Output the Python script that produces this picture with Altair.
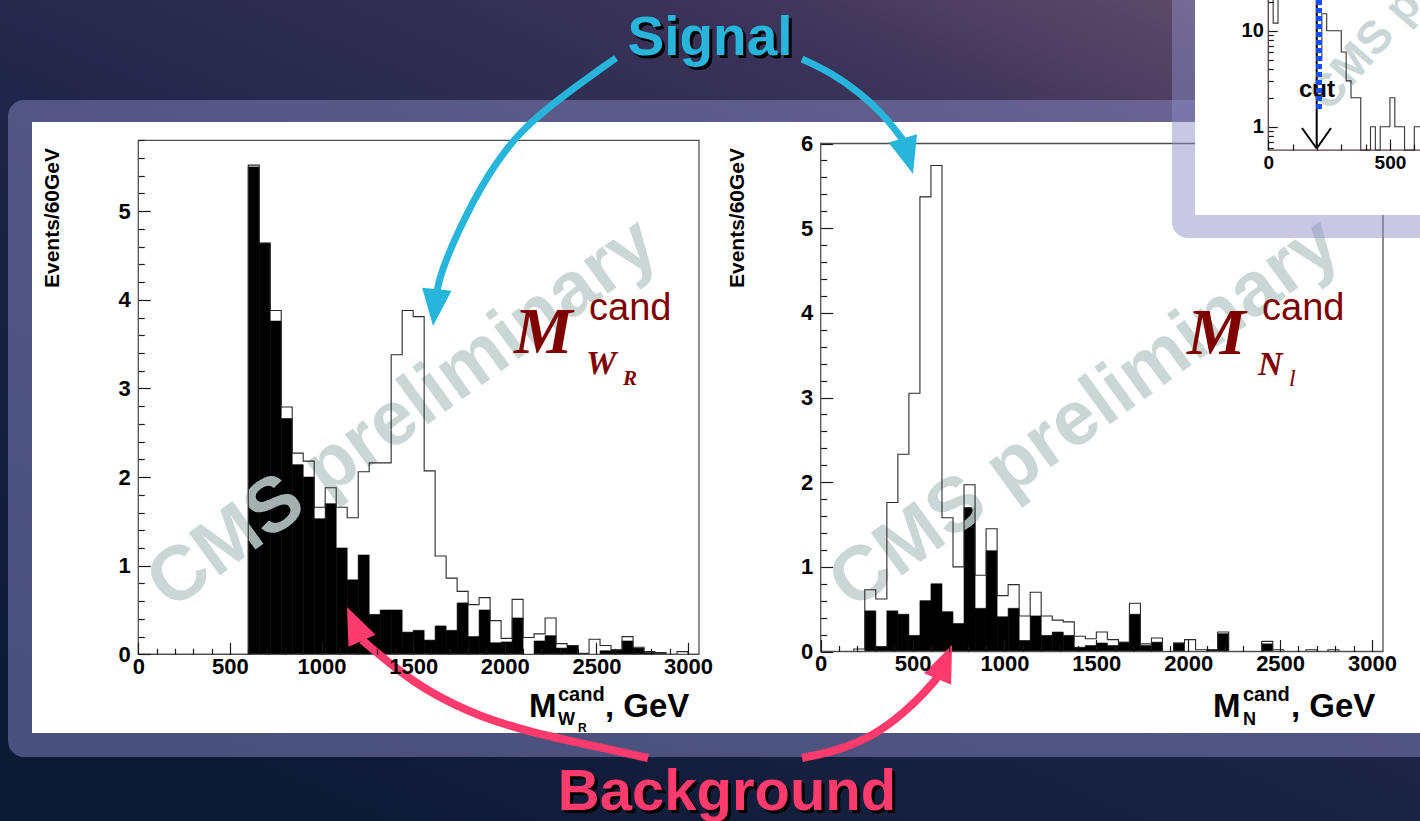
import altair as alt
import pandas as pd

W, H = 1420, 821

# ---------------- histogram data: Events / 60 GeV ----------------
BIN = 60
XMAX = 3060
EDGES = list(range(0, XMAX, BIN))  # 51 bin left edges

WR_BKG = [0, 0, 0, 0, 0, 0, 0, 0, 0, 0,
          5.50, 4.64, 3.76, 2.66, 2.14, 2.00, 1.53, 1.70, 1.20, 0.84,
          1.12, 0.45, 0.50, 0.50, 0.25, 0.27, 0.16, 0.32, 0.27, 0.58,
          0.20, 0.50, 0.13, 0.14, 0.41, 0.00, 0.15, 0.21, 0.07, 0.10,
          0.00, 0.00, 0.04, 0.05, 0.15, 0.07, 0.02, 0.01, 0.00, 0.00,
          0.00]
WR_TOT = [0, 0, 0, 0, 0, 0, 0, 0, 0, 0,
          5.52, 4.64, 3.88, 2.79, 2.27, 2.18, 1.66, 1.88, 1.66, 1.54,
          2.06, 2.16, 2.16, 3.38, 3.88, 3.81, 2.07, 1.11, 0.86, 0.71,
          0.56, 0.64, 0.38, 0.18, 0.62, 0.19, 0.23, 0.41, 0.12, 0.10,
          0.01, 0.17, 0.10, 0.05, 0.20, 0.08, 0.03, 0.02, 0.00, 0.03,
          0.00]
N_BKG = [0, 0, 0, 0,
         0.48, 0.06, 0.48, 0.44, 0.19, 0.60, 0.80, 0.47, 0.33, 1.70,
         0.51, 1.19, 0.41, 0.51, 0.13, 0.42, 0.19, 0.23, 0.19, 0.05,
         0.07, 0.10, 0.07, 0.11, 0.44, 0.07, 0.11, 0.00, 0.10, 0.00,
         0.00, 0.02, 0.21, 0.00, 0.00, 0.00, 0.09, 0.00, 0.00, 0.00,
         0.00, 0.00, 0.00, 0.00, 0.00, 0.00, 0.00]
N_TOT = [0, 0, 0, 0.03,
         0.73, 0.62, 1.76, 2.33, 3.05, 5.37, 5.74, 1.58, 1.00, 1.97,
         0.90, 1.45, 0.66, 0.79, 0.42, 0.70, 0.42, 0.37, 0.35, 0.18,
         0.15, 0.23, 0.14, 0.11, 0.57, 0.09, 0.16, 0.00, 0.10, 0.14,
         0.02, 0.02, 0.23, 0.00, 0.00, 0.00, 0.12, 0.02, 0.00, 0.00,
         0.02, 0.00, 0.02, 0.00, 0.00, 0.00, 0.00]

# ---------------- inset (log scale, cut at 200 GeV) ----------------
INSET_BIN = 20
INSET_EDGES = list(range(0, 640, INSET_BIN))
INSET_TOT = [30, 12, 30, 30, 30, 30, 30, 30, 30, 30,
             5, 15, 10, 10, 10, 6, 3, 2, 2, 0,
             0, 1, 0, 1, 1, 2, 1, 1, 0, 0,
             1, 1]
INSET_FLOOR = 0.57

# ---------------- ticks ----------------
X_MAJOR = [0, 500, 1000, 1500, 2000, 2500, 3000]
X_MINOR = [v for v in range(100, 3001, 100) if v % 500]
WR_Y_MAJOR = [0, 1, 2, 3, 4, 5]
N_Y_MAJOR = [0, 1, 2, 3, 4, 5, 6]
Y_MINOR = [round(0.2 * i, 1) for i in range(1, 30) if i % 5]
INSET_X_MAJOR = [0, 500]
INSET_X_MINOR = [100, 200, 300, 400, 600]
INSET_Y_MAJOR = [1, 10]
INSET_Y_MINOR = [0.6, 0.7, 0.8, 0.9, 2, 3, 4, 5, 6, 7, 8, 9, 20]

# ---------------- layout (canvas pixels) ----------------
LEFT = dict(x0=138.3, x1=699.0, yb=654.3, yt=140.3, ymax=5.8)
RIGHT = dict(x0=820.7, x1=1383.0, yb=651.5, yt=143.5, ymax=6.0)
INSET = dict(x0=1268.3, k=0.2433, y_one=126.7, ppd=96.0, yb=150.0)

FONT = "Liberation Sans"
SERIF = "Liberation Serif"
DARKRED = "#800000"
CYAN = "#27b5dc"
PINK = "#ff3a6c"
WATER = "#c2d0d0"

CX = alt.Scale(domain=[0, W], nice=False, zero=False)
CY = alt.Scale(domain=[0, H], reverse=True, nice=False, zero=False)


def cx(f):
    return alt.X(f, type="quantitative", scale=CX, axis=None)


def cy(f):
    return alt.Y(f, type="quantitative", scale=CY, axis=None)


def crect(x0, x1, y0, y1, **kw):
    df = pd.DataFrame({"a": [x0], "b": [x1], "c": [y0], "d": [y1]})
    return alt.Chart(df).mark_rect(**kw).encode(
        x=cx("a"), x2=alt.X2("b"), y=cy("c"), y2=alt.Y2("d"))


def ctext(items, **kw):
    df = pd.DataFrame(items, columns=["px", "py", "t"])
    return alt.Chart(df).mark_text(**kw).encode(
        x=cx("px"), y=cy("py"), text=alt.Text("t:N"))


def cpath(paths, **kw):
    rows = [dict(id=k, i=i, px=p[0], py=p[1])
            for k, pts in paths.items() for i, p in enumerate(pts)]
    return alt.Chart(pd.DataFrame(rows)).mark_line(**kw).encode(
        x=cx("px"), y=cy("py"), detail="id:N", order="i:Q")


HEAD = "M0,0L-0.8,2L0.8,2Z"


def cheads(heads, color, size=1369):
    df = pd.DataFrame(heads, columns=["px", "py", "ang"])
    return alt.Chart(df).mark_point(shape=HEAD, filled=True, color=color,
                                    opacity=1, size=size, strokeWidth=0).encode(
        x=cx("px"), y=cy("py"), angle=alt.Angle("ang:Q", scale=None))


def panel_scales(fr):
    kx = XMAX / (fr["x1"] - fr["x0"])
    ky = fr["ymax"] / (fr["yb"] - fr["yt"])
    xs = alt.Scale(domain=[-fr["x0"] * kx, (W - fr["x0"]) * kx], nice=False, zero=False)
    ys = alt.Scale(domain=[-(H - fr["yb"]) * ky, fr["yb"] * ky], nice=False, zero=False)
    return xs, ys


def axis(values, orient, offset, size, labels=True, font_size=22, pad=3):
    kw = dict(values=values, orient=orient, offset=offset, tickSize=size,
              tickWidth=1.2, tickColor="#1a1a1a", domain=False, grid=False,
              labels=labels, zindex=1, title="")
    if labels:
        kw.update(labelFont=FONT, labelFontSize=font_size, labelFontWeight="bold",
                  labelColor="black", labelPadding=pad, labelOverlap=False,
                  labelFlush=False, format="d")
    return alt.Axis(**kw)


MAJ, MIN = 12, 6


def hist_layers(fr, bkg, tot, y_major):
    xs, ys = panel_scales(fr)
    bars = pd.DataFrame({"lo": EDGES, "hi": [e + BIN for e in EDGES], "v": bkg, "z": 0.0})
    bars = bars[bars.v > 0]
    black = alt.Chart(bars).mark_rect(color="black", stroke="black", strokeWidth=0.6).encode(
        x=alt.X("lo:Q", scale=xs, axis=None), x2=alt.X2("hi"),
        y=alt.Y("v:Q", scale=ys, axis=None), y2=alt.Y2("z"))
    step = pd.DataFrame({"x": EDGES + [XMAX], "v": tot + [0]})
    outline = alt.Chart(step).mark_line(interpolate="step-after", color="#2a2a2a",
                                        strokeWidth=1.1).encode(
        x=alt.X("x:Q", scale=xs, axis=None), y=alt.Y("v:Q", scale=ys, axis=None))
    frame_df = pd.DataFrame({"a": [0], "b": [XMAX], "c": [0.0], "d": [fr["ymax"]]})
    frame = alt.Chart(frame_df).mark_rect(fillOpacity=0, stroke="#505050", strokeWidth=1.3).encode(
        x=alt.X("a:Q", scale=xs, axis=axis(X_MAJOR, "bottom", fr["yb"] - MAJ - H, MAJ, pad=2)),
        x2=alt.X2("b"),
        y=alt.Y("c:Q", scale=ys, axis=axis(y_major, "left", -(fr["x0"] + MAJ), MAJ, pad=8)),
        y2=alt.Y2("d"))
    minor = alt.Chart(pd.DataFrame({"a": [0], "c": [0]})).mark_point(opacity=0).encode(
        x=alt.X("a:Q", scale=xs, axis=axis(X_MINOR, "bottom", fr["yb"] - MIN - H, MIN, labels=False)),
        y=alt.Y("c:Q", scale=ys, axis=axis(Y_MINOR, "left", -(fr["x0"] + MIN), MIN, labels=False)))
    return [black], [outline, frame, minor]


# ---------------- decorations (canvas pixels) ----------------
WATERMARKS = [(403, 414, "CMS preliminary"), (1085, 414, "CMS preliminary")]
M_BIG = [(514, 353, "M"), (1187, 354, "M")]
M_SUP = [(589, 320, "cand"), (1262, 320, "cand")]
M_SUB = [(586, 374, "W"), (1258, 375, "N")]
M_SUB2 = [(623, 385, "R")]
M_SUB2_L = [(1289, 386, "l")]
YTITLES = [(53, 218, "Events/60GeV"), (738, 218, "Events/60GeV")]
XT_BIG = [(529, 717, "M"), (605, 717, ", GeV"), (1213, 717, "M"), (1291, 717, ", GeV")]
XT_SUP = [(558, 701, "cand"), (1243, 701, "cand")]
XT_SUB = [(558, 725, "W"), (1243, 725, "N")]
XT_SUB2 = [(578, 732, "R")]

CYAN_PATHS = {
    "left": [(616, 58), (568, 92), (520, 130), (487, 175), (457, 233), (440, 275), (437, 292)],
    "right": [(802, 59), (832, 73), (860, 93), (884, 115), (903, 140)],
}
CYAN_HEADS = [(433, 326, 186), (913, 174, 164)]
PINK_PATHS = {
    "left": [(648, 758), (589, 745), (534, 733), (480, 717), (430, 693), (395, 668), (362, 640)],
    "right": [(802, 758), (840, 750), (875, 735), (905, 712), (925, 692), (937, 678)],
}
PINK_HEADS = [(347, 607, 336), (952, 645, 23)]

layers = []
# slide background
bg = alt.Gradient(gradient="linear", x1=1, y1=0, x2=0.25, y2=1,
                  stops=[alt.GradientStop(color="#6d5670", offset=0),
                         alt.GradientStop(color="#3b3359", offset=0.25),
                         alt.GradientStop(color="#1f2548", offset=0.55),
                         alt.GradientStop(color="#0d1a36", offset=1)])
layers.append(crect(0, W, 0, H, fill=bg))
layers.append(crect(8, W + 40, 100, 757, fill="#8c8cc7", opacity=0.48, cornerRadius=16))
layers.append(crect(32, W + 5, 122, 733, fill="white"))

lb, lrest = hist_layers(LEFT, WR_BKG, WR_TOT, WR_Y_MAJOR)
rb, rrest = hist_layers(RIGHT, N_BKG, N_TOT, N_Y_MAJOR)
layers += lb + rb
layers.append(ctext(WATERMARKS, font=FONT, fontWeight="bold", fontSize=77, color=WATER,
                    opacity=0.85, angle=324, align="center", baseline="middle"))
layers += lrest + rrest

# panel labels
layers.append(ctext(M_BIG, font=SERIF, fontStyle="italic", fontWeight="bold", fontSize=66,
                    color=DARKRED, align="left", baseline="alphabetic"))
layers.append(ctext(M_SUP, font=FONT, fontSize=38, color=DARKRED, align="left", baseline="alphabetic"))
layers.append(ctext(M_SUB, font=SERIF, fontStyle="italic", fontWeight="bold", fontSize=34,
                    color=DARKRED, align="left", baseline="alphabetic"))
layers.append(ctext(M_SUB2, font=SERIF, fontStyle="italic", fontWeight="bold", fontSize=21,
                    color=DARKRED, align="left", baseline="alphabetic"))
layers.append(ctext(M_SUB2_L, font=SERIF, fontStyle="italic", fontSize=24,
                    color=DARKRED, align="left", baseline="alphabetic"))
layers.append(ctext(YTITLES, font=FONT, fontWeight="bold", fontSize=21, color="black",
                    angle=270, align="center", baseline="middle"))
layers.append(ctext(XT_BIG, font=FONT, fontWeight="bold", fontSize=33, color="black",
                    align="left", baseline="alphabetic"))
layers.append(ctext(XT_SUP, font=FONT, fontWeight="bold", fontSize=20, color="black",
                    align="left", baseline="alphabetic"))
layers.append(ctext(XT_SUB, font=FONT, fontWeight="bold", fontSize=18, color="black",
                    align="left", baseline="alphabetic"))
layers.append(ctext(XT_SUB2, font=FONT, fontWeight="bold", fontSize=12, color="black",
                    align="left", baseline="alphabetic"))

# ---------------- inset ----------------
layers.append(crect(1172, W + 40, -40, 238, fill="#8c8cc7", opacity=0.48, cornerRadius=16))
layers.append(crect(1195, W + 5, -10, 215, fill="white"))
layers.append(ctext([(1329, 113, "CMS preliminary")], font=FONT, fontWeight="bold", fontSize=46,
                    color=WATER, opacity=0.85, angle=311, align="left", baseline="alphabetic"))

ixs = alt.Scale(domain=[-INSET["x0"] / INSET["k"], (W - INSET["x0"]) / INSET["k"]],
                nice=False, zero=False)
iys = alt.Scale(type="log", domain=[10 ** ((INSET["y_one"] - H) / INSET["ppd"]),
                                    10 ** (INSET["y_one"] / INSET["ppd"])], nice=False)
istep = pd.DataFrame({"x": INSET_EDGES + [INSET_EDGES[-1] + INSET_BIN],
                      "v": [max(v, INSET_FLOOR) for v in INSET_TOT] + [INSET_FLOOR]})
layers.append(alt.Chart(istep).mark_line(interpolate="step-after", color="#333333",
                                         strokeWidth=1.1).encode(
    x=alt.X("x:Q", scale=ixs, axis=None), y=alt.Y("v:Q", scale=iys, axis=None)))
iax = pd.DataFrame({"a": [0], "b": [700], "c": [INSET_FLOOR], "d": [100]})
layers.append(alt.Chart(iax).mark_rule(color="#5a3a4a", strokeWidth=1.3).encode(
    x=alt.X("a:Q", scale=ixs, axis=axis(INSET_X_MAJOR, "bottom", INSET["yb"] - 11 - H, 11, font_size=19, pad=3)),
    y=alt.Y("c:Q", scale=iys, axis=axis(INSET_Y_MAJOR, "left", -(INSET["x0"] + 9), 9, font_size=20, pad=5)),
    y2=alt.Y2("d")))
layers.append(alt.Chart(iax).mark_rule(color="#5a3a4a", strokeWidth=1.3).encode(
    x=alt.X("a:Q", scale=ixs, axis=axis(INSET_X_MINOR, "bottom", INSET["yb"] - 6 - H, 6, labels=False)),
    x2=alt.X2("b"),
    y=alt.Y("c:Q", scale=iys, axis=axis(INSET_Y_MINOR, "left", -(INSET["x0"] + 5), 5, labels=False))))
layers.append(ctext([(1317, 97, "cut")], font=FONT, fontWeight="bold", fontSize=24, color="black",
                    align="center", baseline="alphabetic"))
layers.append(cpath({"shaft": [(1316.7, 0), (1316.7, 148)],
                     "v1": [(1302, 128), (1316.7, 148.5)],
                     "v2": [(1331, 128), (1316.7, 148.5)]},
                    color="black", strokeWidth=2))
layers.append(cpath({"cut": [(1319, 0), (1319, 110)]}, color="#1450ff", strokeWidth=6,
                    strokeDash=[5, 3]))

# ---------------- arrows & callouts ----------------
layers.append(cpath(CYAN_PATHS, color=CYAN, strokeWidth=7, interpolate="basis"))
layers.append(cheads(CYAN_HEADS, CYAN))
layers.append(cpath(PINK_PATHS, color=PINK, strokeWidth=8, interpolate="basis"))
layers.append(cheads(PINK_HEADS, PINK))
layers.append(ctext([(713, 58, "Signal")], font=FONT, fontWeight="bold", fontSize=55,
                    color="black", align="center", baseline="alphabetic"))
layers.append(ctext([(710, 55, "Signal")], font=FONT, fontWeight="bold", fontSize=55,
                    color=CYAN, align="center", baseline="alphabetic"))
layers.append(ctext([(730, 813, "Background")], font=FONT, fontWeight="bold", fontSize=58,
                    color="black", align="center", baseline="alphabetic"))
layers.append(ctext([(727, 810, "Background")], font=FONT, fontWeight="bold", fontSize=58,
                    color=PINK, align="center", baseline="alphabetic"))

chart = alt.layer(*layers).resolve_scale(
    x="independent", y="independent"
).properties(
    width=W, height=H, autosize=alt.AutoSizeParams(type="none"), padding=0
).configure_view(strokeWidth=0).configure(background="#0d1a36")

chart.save("out.html", embed_options={"renderer": "svg", "actions": False})
